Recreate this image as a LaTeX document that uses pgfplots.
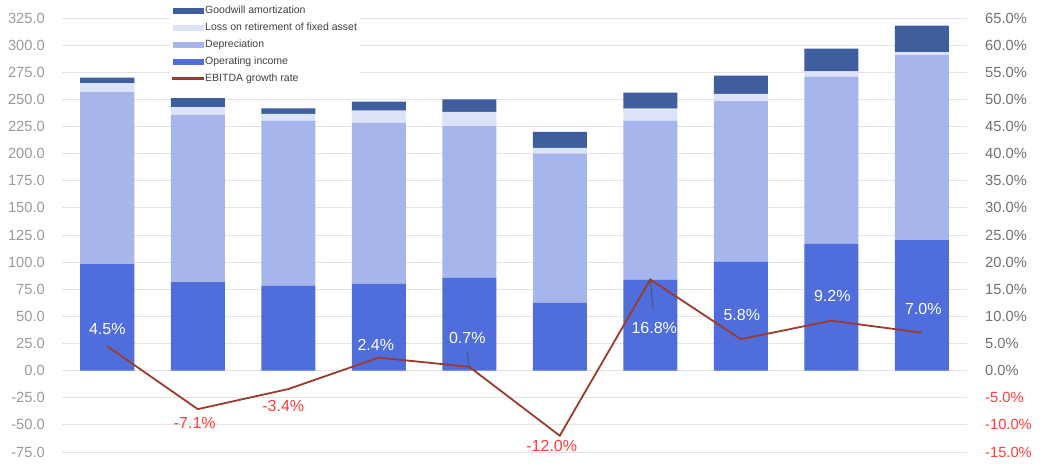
\documentclass[border=0pt]{standalone}
\usepackage{pgfplots}
\pgfplotsset{compat=1.18}
\usepackage{pgfplotstable}
\usepackage{fontspec}
\setmainfont{Liberation Sans}
\definecolor{gw}{HTML}{3F5E9E}
\definecolor{loss}{HTML}{DCE2F7}
\definecolor{dep}{HTML}{A7B5ED}
\definecolor{oi}{HTML}{4F6DDB}
\definecolor{ebitda}{HTML}{9C3B2B}
\definecolor{neg}{HTML}{FF3B3B}
\definecolor{gridc}{HTML}{E3E3E3}
\definecolor{ltick}{HTML}{9A9A9A}
\definecolor{rtick}{HTML}{707070}
\definecolor{leader}{HTML}{4A5670}

\pgfplotstableread{
x OI Dep Loss GW
0 98.1 158.5 8.3 5.1
1 81.5 153.9 7.4 8.3
2 78.3 152.1 6.2 5.2
3 80.2 148.1 11.3 8.3
4 85.4 139.9 13.1 11.7
5 62.7 137.3 5.3 14.7
6 83.6 146.8 11.1 14.7
7 100.2 148.1 6.7 16.9
8 116.8 154.2 4.9 20.9
9 120.2 170.5 2.8 24.5
}\bars

\pgfplotstableread{
x g
0 4.5
1 -7.1
2 -3.4
3 2.4
4 0.7
5 -12.0
6 16.8
7 5.8
8 9.2
9 7.0
}\growth

\begin{document}
\begin{tikzpicture}
\path[use as bounding box] (-62pt,-14pt) rectangle (980pt,452pt);
\begin{axis}[
  at={(0,0)}, anchor=south west,
  scale only axis, width=905pt, height=434pt,
  xmin=-0.5, xmax=9.5, ymin=-75, ymax=325,
  ytick={-75,-50,...,325}, xtick=\empty,
  axis line style={draw=none},
  ymajorgrids, grid style={gridc, line width=0.9pt},
  major tick length=0pt,
  yticklabel style={font=\fontsize{14.7}{16}\selectfont, text=ltick, anchor=east, inner sep=0pt, xshift=-17pt},
  /pgf/number format/.cd, fixed, fixed zerofill, precision=1, assume math mode=true,
  /pgfplots/.cd,
  ybar stacked, bar width=54pt,
]
\addplot[fill=oi, draw=none] table[x=x, y=OI] {\bars};
\addplot[fill=dep, draw=none] table[x=x, y=Dep] {\bars};
\addplot[fill=loss, draw=none] table[x=x, y=Loss] {\bars};
\addplot[fill=gw, draw=none] table[x=x, y=GW] {\bars};
\end{axis}
\begin{axis}[
  at={(0,0)}, anchor=south west,
  scale only axis, width=905pt, height=434pt,
  xmin=-0.5, xmax=9.5, ymin=-15, ymax=65,
  ytick={-15,-10,...,65},
  yticklabels={\textcolor{neg}{-15.0\%},\textcolor{neg}{-10.0\%},\textcolor{neg}{-5.0\%},0.0\%,5.0\%,10.0\%,15.0\%,20.0\%,25.0\%,30.0\%,35.0\%,40.0\%,45.0\%,50.0\%,55.0\%,60.0\%,65.0\%},
  axis y line*=right, axis x line=none,
  y axis line style={draw=none},
  major tick length=0pt,
  yticklabel style={font=\fontsize{14.7}{16}\selectfont, text=rtick, anchor=west, inner sep=0pt, xshift=18pt},
  legend cell align=left,
  legend style={at={(0.119,1.042)}, anchor=north west, fill=white, draw=none,
    font=\fontsize{10.5}{12}\selectfont, text=black!75, row sep=0pt,
    inner sep=2pt,
    nodes={inner sep=1.5pt, text height=10pt, text depth=4pt}},
]
\addlegendimage{legend image code/.code={\fill[gw] (0pt,-2.5pt) rectangle (30pt,2.5pt);}}
\addlegendentry{Goodwill amortization}
\addlegendimage{legend image code/.code={\fill[loss] (0pt,-2.5pt) rectangle (30pt,2.5pt);}}
\addlegendentry{Loss on retirement of fixed asset}
\addlegendimage{legend image code/.code={\fill[dep] (0pt,-2.5pt) rectangle (30pt,2.5pt);}}
\addlegendentry{Depreciation}
\addlegendimage{legend image code/.code={\fill[oi] (0pt,-2.5pt) rectangle (30pt,2.5pt);}}
\addlegendentry{Operating income}
\addplot[ebitda, line width=1.8pt, mark=none,
  legend image code/.code={\fill[ebitda] (0pt,-1pt) rectangle (30pt,1pt);}]
  table[x=x, y=g] {\growth};
\addlegendentry{EBITDA growth rate}
\draw[leader, line width=0.9pt] (axis cs:4,0.7) -- ++(-2pt,15pt);
\draw[leader, line width=0.9pt] (axis cs:6,16.8) -- ++(3pt,-31pt);
\begin{scope}[every node/.style={font=\fontsize{16}{18}\selectfont}]
\node[text=white, xshift=0pt, yshift=17.6pt] at (axis cs:0,4.5) {4.5\%};
\node[text=neg, xshift=-3pt, yshift=-13.5pt] at (axis cs:1,-7.1) {-7.1\%};
\node[text=neg, xshift=-5pt, yshift=-17.3pt] at (axis cs:2,-3.4) {-3.4\%};
\node[text=white, xshift=-3pt, yshift=12.3pt] at (axis cs:3,2.4) {2.4\%};
\node[text=white, xshift=-2pt, yshift=29pt] at (axis cs:4,0.7) {0.7\%};
\node[text=neg, xshift=-8pt, yshift=-10.6pt] at (axis cs:5,-12.0) {-12.0\%};
\node[text=white, xshift=4pt, yshift=-49pt] at (axis cs:6,16.8) {16.8\%};
\node[text=white, xshift=1pt, yshift=23.8pt] at (axis cs:7,5.8) {5.8\%};
\node[text=white, xshift=1pt, yshift=24.4pt] at (axis cs:8,9.2) {9.2\%};
\node[text=white, xshift=1.5pt, yshift=23.7pt] at (axis cs:9,7.0) {7.0\%};
\end{scope}
\end{axis}
\end{tikzpicture}
\end{document}
